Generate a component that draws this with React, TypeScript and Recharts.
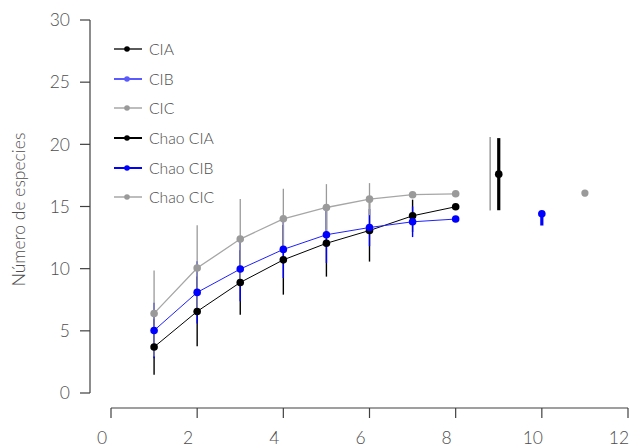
import React from 'react';
import {
  ComposedChart,
  Line,
  Scatter,
  ErrorBar,
  XAxis,
  YAxis,
} from 'recharts';

// muestras (eje x)
const samples = [1, 2, 3, 4, 5, 6, 7, 8];

const ciaValues = [3.7, 6.56, 8.89, 10.71, 12.04, 13.07, 14.25, 14.98];
const ciaErrors = [2.23, 2.8, 2.6, 2.8, 2.68, 2.5, 1.3, 0];

const cibValues = [5.03, 8.09, 9.97, 11.55, 12.73, 13.31, 13.77, 13.99];
const cibErrors = [2.23, 2.5, 2.6, 2.3, 2.28, 1.5, 1.23, 0];

const cicValues = [6.4, 10.05, 12.38, 14.01, 14.92, 15.59, 15.95, 16.02];
const cicErrors = [3.46, 3.45, 3.22, 2.41, 1.88, 1.29, 0, 0];

// estimadores Chao
const chaoCIA = [{ x: 9, y: 17.6, err: 2.9 }];
const chaoCIB = [{ x: 10, y: 14.41, err: [0.94, 0.22] }];
const chaoCIC = [{ x: 11, y: 16.08, err: 0.25 }];
const chaoRange = [{ x: 8.8, y: 17.63, err: 2.95 }];

const xTicks = [0, 2, 4, 6, 8, 10, 12];
const yTicks = [0, 5, 10, 15, 20, 25, 30];

const legendItems = [
  { name: 'CIA', color: '#000000', width: 1.3 },
  { name: 'CIB', color: '#5a5aff', width: 2 },
  { name: 'CIC', color: '#9a9a9a', width: 1.3 },
  { name: 'Chao CIA', color: '#000000', width: 2 },
  { name: 'Chao CIB', color: '#0000ff', width: 2 },
  { name: 'Chao CIC', color: '#9a9a9a', width: 1.3 },
];

const data = samples.map((x, i) => ({
  x,
  cia: ciaValues[i],
  ciaErr: ciaErrors[i],
  cib: cibValues[i],
  cibErr: cibErrors[i],
  cic: cicValues[i],
  cicErr: cicErrors[i],
}));

const FONT = 'Lato, "Open Sans", sans-serif';
const TEXT = '#4d4d4d';
const AXIS = '#404040';

const YTick = (props: any) => {
  const { x, y, payload } = props;
  return (
    <g>
      <line x1={x - 31} x2={x - 21} y1={y} y2={y} stroke={AXIS} strokeWidth={1.2} />
      <text
        x={x - 41}
        y={y}
        dy="0.36em"
        textAnchor="end"
        fill={TEXT}
        fontSize={17.5}
        fontWeight={300}
        fontFamily={FONT}
      >
        {payload.value}
      </text>
    </g>
  );
};

const XTick = (props: any) => {
  const { x, y, payload } = props;
  return (
    <g>
      <line x1={x} x2={x} y1={y + 15} y2={y + 25} stroke={AXIS} strokeWidth={1.2} />
      <text
        x={x - 9}
        y={y + 51}
        textAnchor="middle"
        fill={TEXT}
        fontSize={17.5}
        fontWeight={300}
        fontFamily={FONT}
      >
        {payload.value}
      </text>
    </g>
  );
};

const LegendBox = () => (
  <div
    style={{
      position: 'absolute',
      left: 114,
      top: 34.5,
      fontFamily: FONT,
      fontWeight: 300,
      color: TEXT,
      fontSize: 15.7,
    }}
  >
    {legendItems.map((item) => (
      <div
        key={item.name}
        style={{ height: 29.6, display: 'flex', alignItems: 'center' }}
      >
        <svg width={28} height={10} style={{ marginRight: 7 }}>
          <line x1={0} x2={28} y1={5} y2={5} stroke={item.color} strokeWidth={item.width} />
          <circle cx={13} cy={5} r={2.8} fill={item.color} />
        </svg>
        <span>{item.name}</span>
      </div>
    ))}
  </div>
);

const dotShape = (color: string, r: number) => (props: any) => (
  <circle cx={props.cx} cy={props.cy} r={r} fill={color} />
);

export default function App() {
  return (
    <div style={{ position: 'absolute', left: 0, top: 0, width: 636, height: 448 }}>
      <ComposedChart
        width={636}
        height={448}
        data={data}
        margin={{ top: 20, right: 8, bottom: 0, left: 0 }}
      >
        <XAxis
          dataKey="x"
          type="number"
          domain={[0, 12]}
          ticks={xTicks}
          interval={0}
          height={55}
          tickSize={0}
          tickMargin={0}
          tickLine={false}
          axisLine={{ stroke: AXIS, strokeWidth: 1.2, transform: 'translate(0,15)' }}
          tick={<XTick />}
        />
        <YAxis
          type="number"
          domain={[0, 30]}
          ticks={yTicks}
          interval={0}
          width={111}
          tickSize={0}
          tickMargin={0}
          tickLine={false}
          axisLine={{ stroke: AXIS, strokeWidth: 1.2, transform: 'translate(-21,0)' }}
          tick={<YTick />}
          label={{
            content: (p: any) => {
              const vb = p.viewBox || { y: 20, height: 373 };
              const cy = vb.y + vb.height / 2 + 3;
              return (
                <text
                  x={19}
                  y={cy}
                  transform={`rotate(-90, 19, ${cy})`}
                  textAnchor="middle"
                  dy="0.35em"
                  fill={TEXT}
                  fontSize={17.5}
                  fontWeight={300}
                  fontFamily={FONT}
                >
                  Número de especies
                </text>
              );
            },
          }}
        />
        <Line
          dataKey="cia"
          stroke="#000000"
          strokeWidth={1}
          dot={{ r: 3.8, fill: '#000000', stroke: '#000000', strokeWidth: 0 }}
          activeDot={false}
          isAnimationActive={false}
        >
          <ErrorBar dataKey="ciaErr" direction="y" width={0} stroke="#000000" strokeWidth={1.4} />
        </Line>
        <Line
          dataKey="cib"
          stroke="#2020ff"
          strokeWidth={1}
          dot={{ r: 3.8, fill: '#0000ff', stroke: '#0000ff', strokeWidth: 0 }}
          activeDot={false}
          isAnimationActive={false}
        >
          <ErrorBar dataKey="cibErr" direction="y" width={0} stroke="#0000ff" strokeWidth={1.4} />
        </Line>
        <Line
          dataKey="cic"
          stroke="#a6a6a6"
          strokeWidth={1.3}
          dot={{ r: 3.8, fill: '#9a9a9a', stroke: '#9a9a9a', strokeWidth: 0 }}
          activeDot={false}
          isAnimationActive={false}
        >
          <ErrorBar dataKey="cicErr" direction="y" width={0} stroke="#9a9a9a" strokeWidth={1.3} />
        </Line>
        <Scatter
          data={chaoRange}
          dataKey="y"
          shape={dotShape('transparent', 0)}
          isAnimationActive={false}
        >
          <ErrorBar dataKey="err" direction="y" width={0} stroke="#8c8c8c" strokeWidth={1.3} />
        </Scatter>
        <Scatter
          data={chaoCIA}
          dataKey="y"
          shape={dotShape('#000000', 3.8)}
          isAnimationActive={false}
        >
          <ErrorBar dataKey="err" direction="y" width={0} stroke="#000000" strokeWidth={3.2} />
        </Scatter>
        <Scatter
          data={chaoCIB}
          dataKey="y"
          shape={dotShape('#0000ff', 3.8)}
          isAnimationActive={false}
        >
          <ErrorBar dataKey="err" direction="y" width={0} stroke="#0000ff" strokeWidth={3.2} />
        </Scatter>
        <Scatter
          data={chaoCIC}
          dataKey="y"
          shape={dotShape('#9a9a9a', 3.6)}
          isAnimationActive={false}
        >
          <ErrorBar dataKey="err" direction="y" width={0} stroke="#9a9a9a" strokeWidth={3.2} />
        </Scatter>
      </ComposedChart>
      <LegendBox />
    </div>
  );
}
